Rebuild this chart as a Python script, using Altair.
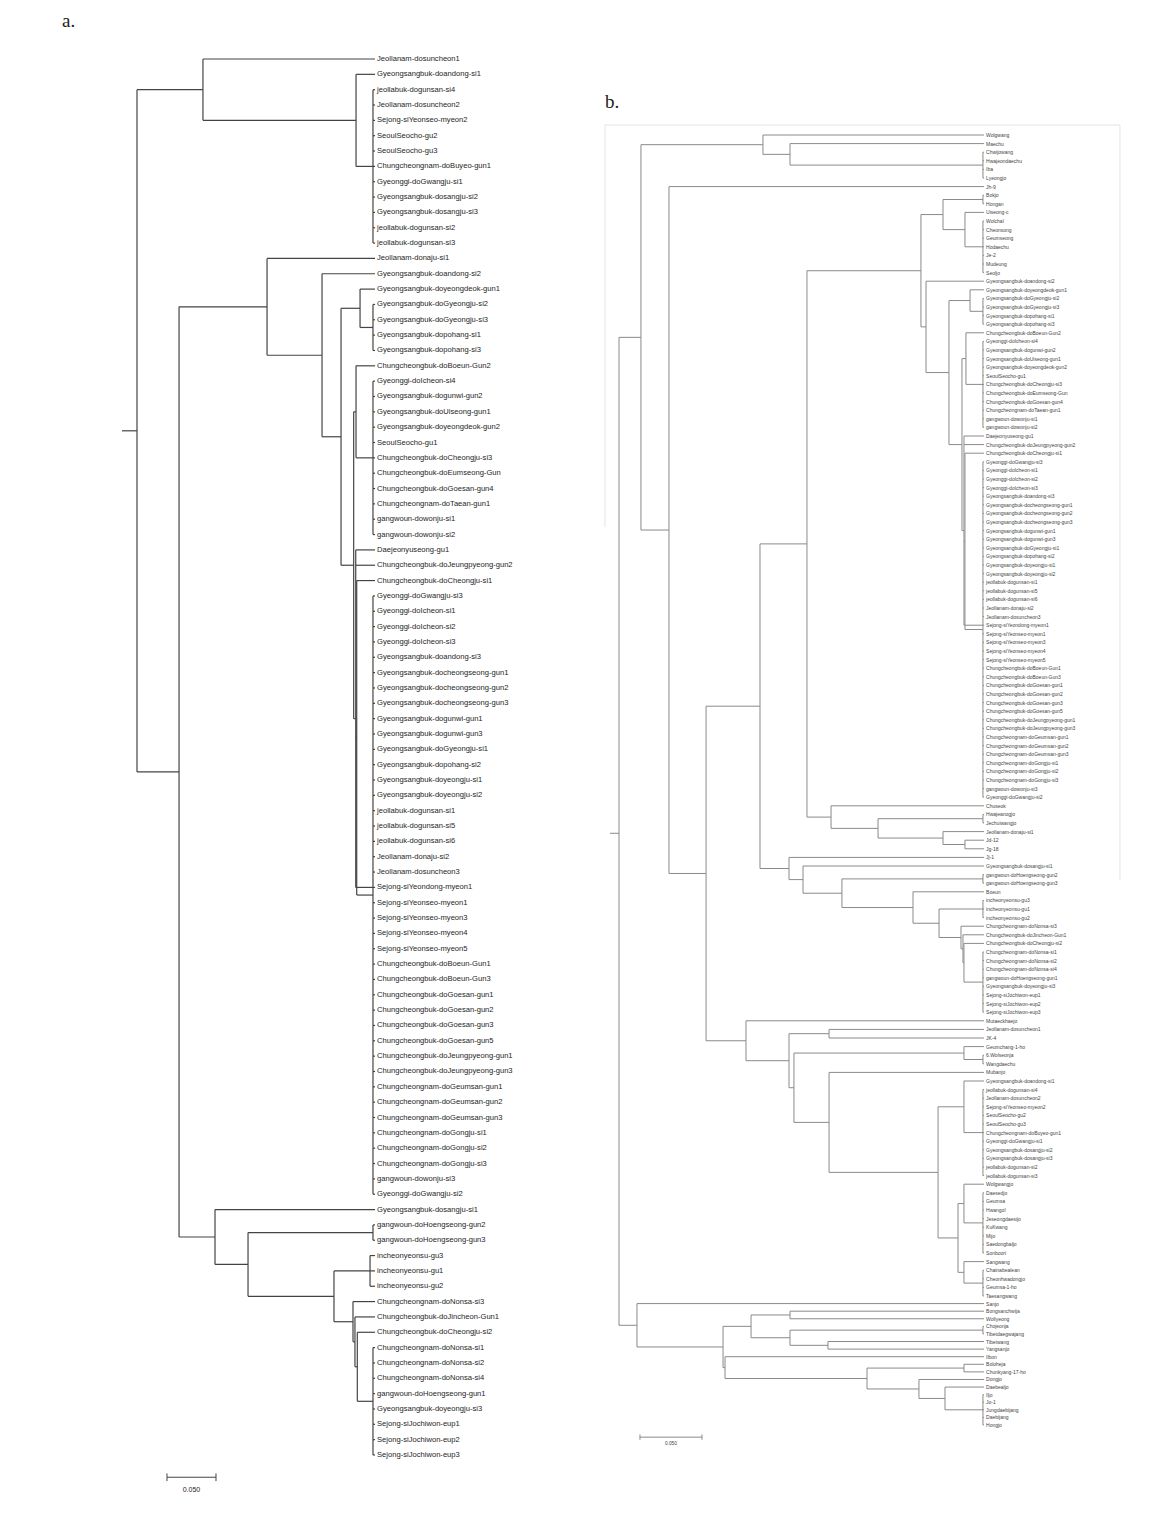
import altair as alt
import pandas as pd

# ---------------- data: tree a (92 accessions) ----------------
LABELS_A = [
    "Jeollanam-dosuncheon1", "Gyeongsangbuk-doandong-si1", "jeollabuk-dogunsan-si4", "Jeollanam-dosuncheon2",
    "Sejong-siYeonseo-myeon2", "SeoulSeocho-gu2", "SeoulSeocho-gu3", "Chungcheongnam-doBuyeo-gun1",
    "Gyeonggi-doGwangju-si1", "Gyeongsangbuk-dosangju-si2", "Gyeongsangbuk-dosangju-si3", "jeollabuk-dogunsan-si2",
    "jeollabuk-dogunsan-si3", "Jeollanam-donaju-si1", "Gyeongsangbuk-doandong-si2", "Gyeongsangbuk-doyeongdeok-gun1",
    "Gyeongsangbuk-doGyeongju-si2", "Gyeongsangbuk-doGyeongju-si3", "Gyeongsangbuk-dopohang-si1", "Gyeongsangbuk-dopohang-si3",
    "Chungcheongbuk-doBoeun-Gun2", "Gyeonggi-doIcheon-si4", "Gyeongsangbuk-dogunwi-gun2", "Gyeongsangbuk-doUiseong-gun1",
    "Gyeongsangbuk-doyeongdeok-gun2", "SeoulSeocho-gu1", "Chungcheongbuk-doCheongju-si3", "Chungcheongbuk-doEumseong-Gun",
    "Chungcheongbuk-doGoesan-gun4", "Chungcheongnam-doTaean-gun1", "gangwoun-dowonju-si1", "gangwoun-dowonju-si2",
    "Daejeonyuseong-gu1", "Chungcheongbuk-doJeungpyeong-gun2", "Chungcheongbuk-doCheongju-si1", "Gyeonggi-doGwangju-si3",
    "Gyeonggi-doIcheon-si1", "Gyeonggi-doIcheon-si2", "Gyeonggi-doIcheon-si3", "Gyeongsangbuk-doandong-si3",
    "Gyeongsangbuk-docheongseong-gun1", "Gyeongsangbuk-docheongseong-gun2", "Gyeongsangbuk-docheongseong-gun3",
    "Gyeongsangbuk-dogunwi-gun1", "Gyeongsangbuk-dogunwi-gun3", "Gyeongsangbuk-doGyeongju-si1", "Gyeongsangbuk-dopohang-si2",
    "Gyeongsangbuk-doyeongju-si1", "Gyeongsangbuk-doyeongju-si2", "jeollabuk-dogunsan-si1", "jeollabuk-dogunsan-si5",
    "jeollabuk-dogunsan-si6", "Jeollanam-donaju-si2", "Jeollanam-dosuncheon3", "Sejong-siYeondong-myeon1",
    "Sejong-siYeonseo-myeon1", "Sejong-siYeonseo-myeon3", "Sejong-siYeonseo-myeon4", "Sejong-siYeonseo-myeon5",
    "Chungcheongbuk-doBoeun-Gun1", "Chungcheongbuk-doBoeun-Gun3", "Chungcheongbuk-doGoesan-gun1", "Chungcheongbuk-doGoesan-gun2",
    "Chungcheongbuk-doGoesan-gun3", "Chungcheongbuk-doGoesan-gun5", "Chungcheongbuk-doJeungpyeong-gun1",
    "Chungcheongbuk-doJeungpyeong-gun3", "Chungcheongnam-doGeumsan-gun1", "Chungcheongnam-doGeumsan-gun2",
    "Chungcheongnam-doGeumsan-gun3", "Chungcheongnam-doGongju-si1", "Chungcheongnam-doGongju-si2", "Chungcheongnam-doGongju-si3",
    "gangwoun-dowonju-si3", "Gyeonggi-doGwangju-si2", "Gyeongsangbuk-dosangju-si1", "gangwoun-doHoengseong-gun2",
    "gangwoun-doHoengseong-gun3", "incheonyeonsu-gu3", "incheonyeonsu-gu1", "incheonyeonsu-gu2",
    "Chungcheongnam-doNonsa-si3", "Chungcheongbuk-doJincheon-Gun1", "Chungcheongbuk-doCheongju-si2",
    "Chungcheongnam-doNonsa-si1", "Chungcheongnam-doNonsa-si2", "Chungcheongnam-doNonsa-si4", "gangwoun-doHoengseong-gun1",
    "Gyeongsangbuk-doyeongju-si3", "Sejong-siJochiwon-eup1", "Sejong-siJochiwon-eup2", "Sejong-siJochiwon-eup3",
]
LEAF_DEPTH_A = 0.2429
# node = (distance from root, [children]); children are leaf numbers (1-based) or nodes
TREE_A = (0.0, [
    (0.0673, [1, (0.2235, [2, (0.2408, list(range(3, 14)))])]),
    (0.0429, [
        (0.1327, [14, (0.1888, [15, (0.2082, [
            (0.2276, [16, (0.2408, [17, 18, 19, 20])]),
            (0.2211, [
                (0.2235, [21, (0.2408, list(range(22, 33)))]),
                (0.2232, [33, 34, (0.2242, [35, (0.2408, list(range(36, 55)) + list(range(56, 76)))]), 55]),
            ]),
        ])])]),
        (0.0796, [76, (0.1133, [
            (0.2408, [77, 78]),
            (0.2010, [
                (0.2378, [79, 80, 81]),
                (0.2204, [82, (0.2224, [83, (0.2248, [84, (0.2408, list(range(85, 93)))])])]),
            ]),
        ])]),
    ]),
])
ROOT_STUB_A = -0.0153
SCALEBAR_A = [0.0306, 0.0806]   # 0.050 substitutions per site
SCALEBAR_A_ROW = 93.45

# ---------------- data: tree b (153 accessions) ----------------
LABELS_B = [
    "Wolgwang", "Maechu", "Chwijowang", "Hwajeondaechu", "Iba", "Lyeongjo", "Jh-9", "Bokjo", "Hongan", "Uiseong-c",
    "Wolchal", "Cheonsong", "Geumseong", "Hodaechu", "Je-2", "Mudeung", "Seoljo",
    "Gyeongsangbuk-doandong-si2", "Gyeongsangbuk-doyeongdeok-gun1", "Gyeongsangbuk-doGyeongju-si2",
    "Gyeongsangbuk-doGyeongju-si3", "Gyeongsangbuk-dopohang-si1", "Gyeongsangbuk-dopohang-si3",
    "Chungcheongbuk-doBoeun-Gun2", "Gyeonggi-doIcheon-si4", "Gyeongsangbuk-dogunwi-gun2", "Gyeongsangbuk-doUiseong-gun1",
    "Gyeongsangbuk-doyeongdeok-gun2", "SeoulSeocho-gu1", "Chungcheongbuk-doCheongju-si3", "Chungcheongbuk-doEumseong-Gun",
    "Chungcheongbuk-doGoesan-gun4", "Chungcheongnam-doTaean-gun1", "gangwoun-dowonju-si1", "gangwoun-dowonju-si2",
    "Daejeonyuseong-gu1", "Chungcheongbuk-doJeungpyeong-gun2", "Chungcheongbuk-doCheongju-si1",
    "Gyeonggi-doGwangju-si3", "Gyeonggi-doIcheon-si1", "Gyeonggi-doIcheon-si2", "Gyeonggi-doIcheon-si3",
    "Gyeongsangbuk-doandong-si3", "Gyeongsangbuk-docheongseong-gun1", "Gyeongsangbuk-docheongseong-gun2",
    "Gyeongsangbuk-docheongseong-gun3", "Gyeongsangbuk-dogunwi-gun1", "Gyeongsangbuk-dogunwi-gun3",
    "Gyeongsangbuk-doGyeongju-si1", "Gyeongsangbuk-dopohang-si2", "Gyeongsangbuk-doyeongju-si1", "Gyeongsangbuk-doyeongju-si2",
    "jeollabuk-dogunsan-si1", "jeollabuk-dogunsan-si5", "jeollabuk-dogunsan-si6", "Jeollanam-donaju-si2",
    "Jeollanam-dosuncheon3", "Sejong-siYeondong-myeon1", "Sejong-siYeonseo-myeon1", "Sejong-siYeonseo-myeon3",
    "Sejong-siYeonseo-myeon4", "Sejong-siYeonseo-myeon5", "Chungcheongbuk-doBoeun-Gun1", "Chungcheongbuk-doBoeun-Gun3",
    "Chungcheongbuk-doGoesan-gun1", "Chungcheongbuk-doGoesan-gun2", "Chungcheongbuk-doGoesan-gun3", "Chungcheongbuk-doGoesan-gun5",
    "Chungcheongbuk-doJeungpyeong-gun1", "Chungcheongbuk-doJeungpyeong-gun3", "Chungcheongnam-doGeumsan-gun1",
    "Chungcheongnam-doGeumsan-gun2", "Chungcheongnam-doGeumsan-gun3", "Chungcheongnam-doGongju-si1",
    "Chungcheongnam-doGongju-si2", "Chungcheongnam-doGongju-si3", "gangwoun-dowonju-si3", "Gyeonggi-doGwangju-si2",
    "Chuseok", "Hwajeanogjo", "Jechuiwangjo", "Jeollanam-donaju-si1", "Jd-12", "Jg-18", "Jj-1",
    "Gyeongsangbuk-dosangju-si1", "gangwoun-doHoengseong-gun2", "gangwoun-doHoengseong-gun3", "Boeun",
    "incheonyeonsu-gu3", "incheonyeonsu-gu1", "incheonyeonsu-gu2", "Chungcheongnam-doNonsa-si3",
    "Chungcheongbuk-doJincheon-Gun1", "Chungcheongbuk-doCheongju-si2", "Chungcheongnam-doNonsa-si1",
    "Chungcheongnam-doNonsa-si2", "Chungcheongnam-doNonsa-si4", "gangwoun-doHoengseong-gun1",
    "Gyeongsangbuk-doyeongju-si3", "Sejong-siJochiwon-eup1", "Sejong-siJochiwon-eup2", "Sejong-siJochiwon-eup3",
    "Mutaeckhaejo", "Jeollanam-dosuncheon1", "JK-4", "Geumchang-1-ho", "6.Wolseonja", "Wangdaechu", "Mubanjo",
    "Gyeongsangbuk-doandong-si1", "jeollabuk-dogunsan-si4", "Jeollanam-dosuncheon2", "Sejong-siYeonseo-myeon2",
    "SeoulSeocho-gu2", "SeoulSeocho-gu3", "Chungcheongnam-doBuyeo-gun1", "Gyeonggi-doGwangju-si1",
    "Gyeongsangbuk-dosangju-si2", "Gyeongsangbuk-dosangju-si3", "jeollabuk-dogunsan-si2", "jeollabuk-dogunsan-si3",
    "Wolgwangjo", "Daesedjo", "Geumsa", "Hwangol", "Jeseongdaesijo", "KuKwang", "Mijo", "Saedongbaljo", "Sonboori",
    "Sangwang", "Chainabealean", "Cheonhwadongjo", "Geumsa-1-ho", "Taesangwang",
    "Sanjo", "Bongsanchwija", "Wollyeong", "Chojeonja", "Tibetdaegwajang", "Tibetwang", "Yangsanjo", "Ilbon",
    "Boloheja", "Chunkyang-17-ho", "Dongjo", "Daebealjo", "Iljo", "Jo-1", "Jungdaebijang", "Daebijang", "Hongjo",
]
LEAF_DEPTH_B = 0.2944
TREE_B = (0.0, [
    (0.0177, [
        (0.1161, [1, (0.1379, [2, (0.2935, [3, 4, 5, 6])])]),
        (0.0403, [7, (0.0702, [
            (0.1137, [
                (0.1516, [
                    (0.2435, [
                        (0.2613, [(0.2935, [8, 9]), (0.2790, [10, (0.2935, list(range(11, 18)))])]),
                        (0.2476, [18, (0.2661, [
                            (0.2831, [19, (0.2935, [20, 21, 22, 23])]),
                            (0.2766, [
                                (0.2798, [24, (0.2935, list(range(25, 36)))]),
                                (0.2782, [36, 37, (0.2790, [38, (0.2935, list(range(39, 58)) + list(range(59, 79)))]), 58]),
                            ]),
                        ])]),
                    ]),
                    (0.1710, [79, (0.2089, [(0.2935, [80, 81]), (0.2613, [82, (0.2790, [83, 84])])])]),
                ]),
                (0.1371, [85, (0.1484, [86, (0.1798, [
                    (0.2935, [87, 88]),
                    (0.2371, [89, (0.2581, [
                        (0.2935, [90, 91, 92]),
                        (0.2758, [93, (0.2774, [94, (0.2782, [95, (0.2935, list(range(96, 104)))])])]),
                    ])]),
                ])])]),
            ]),
            (0.1024, [104, (0.1371, [
                (0.1694, [105, 106]),
                (0.1411, [
                    (0.2782, [107, (0.2935, [108, 109])]),
                    (0.1694, [110, (0.2573, [
                        (0.2782, [111, (0.2935, list(range(112, 123)))]),
                        (0.2734, [
                            (0.2782, [123, (0.2935, list(range(124, 132)))]),
                            (0.2782, [132, (0.2935, [133, 134, 135, 136])]),
                        ]),
                    ])]),
                ]),
            ])]),
        ])]),
    ]),
    (0.0145, [137, (0.0839, [
        (0.1065, [(0.1379, [138, 139]), (0.1379, [(0.2935, [140, 141]), (0.1685, [142, 143])])]),
        (0.0855, [144, (0.2000, [
            (0.2782, [145, 146]),
            (0.2419, [147, (0.2629, [148, (0.2935, [149, 150, 151, 152, 153])])]),
        ])]),
    ])]),
])
ROOT_STUB_B = -0.0073
SCALEBAR_B = [0.0169, 0.0669]
SCALEBAR_B_ROW = 154.6
FRAME_B = {"left": -0.0113, "right": 0.404, "top": -0.16, "bottom": 87.6, "left_bottom": 46.6}


# ---------------- layout helpers ----------------
def tree_segments(tree, leaf_depth, stub):
    segs = []

    def walk(node):
        if isinstance(node, int):
            return leaf_depth, float(node)
        d, kids = node
        ys = []
        for k in kids:
            kd, ky = walk(k)
            segs.append({"x": d, "x2": kd, "y": ky, "y2": ky})
            ys.append(ky)
        segs.append({"x": d, "x2": d, "y": min(ys), "y2": max(ys)})
        return d, (min(ys) + max(ys)) / 2

    rd, ry = walk(tree)
    segs.append({"x": stub, "x2": rd, "y": ry, "y2": ry})
    return pd.DataFrame(segs)


def scalebar(xs, row, tick):
    return pd.DataFrame([
        {"x": xs[0], "x2": xs[1], "y": row, "y2": row},
        {"x": xs[0], "x2": xs[0], "y": row - tick, "y2": row + tick},
        {"x": xs[1], "x2": xs[1], "y": row - tick, "y2": row + tick},
    ])


def tree_chart(segs, labels, leaf_depth, xs, ys, sb, sb_text_row, line_color, line_w,
               font, font_size, text_color, sb_font_size, extra=None):
    def enc(ch):
        return ch.encode(
            x=alt.X("x:Q", scale=xs, axis=None), x2="x2:Q",
            y=alt.Y("y:Q", scale=ys, axis=None), y2="y2:Q",
        )

    lines = enc(alt.Chart(segs).mark_rule(color=line_color, strokeWidth=line_w))
    bar = enc(alt.Chart(sb).mark_rule(color=line_color, strokeWidth=1))
    lab_df = pd.DataFrame({"x": leaf_depth, "y": range(1, len(labels) + 1), "label": labels})
    texts = alt.Chart(lab_df).mark_text(
        align="left", baseline="middle", dx=2, font=font, fontSize=font_size, color=text_color
    ).encode(
        x=alt.X("x:Q", scale=xs, axis=None),
        y=alt.Y("y:Q", scale=ys, axis=None),
        text="label:N",
    )
    sbl = alt.Chart(pd.DataFrame({"x": [(sb["x"][0] + sb["x2"][0]) / 2], "y": [sb_text_row], "t": ["0.050"]})).mark_text(
        align="center", baseline="middle", font=font, fontSize=sb_font_size, color=text_color
    ).encode(
        x=alt.X("x:Q", scale=xs, axis=None),
        y=alt.Y("y:Q", scale=ys, axis=None),
        text="t:N",
    )
    layers = [lines, texts, bar, sbl]
    if extra is not None:
        layers.insert(0, enc(extra))
    return alt.layer(*layers)


FONT = "'Liberation Sans', Arial, sans-serif"

XA = alt.Scale(domain=[0, 0.25], range=[129, 374], nice=False, zero=False)
YA = alt.Scale(domain=[1, 92], range=[51, 1447], nice=False, zero=False)
XB = alt.Scale(domain=[0, 0.3], range=[611, 983], nice=False, zero=False)
YB = alt.Scale(domain=[1, 136, 153], range=[127, 1288, 1417], nice=False, zero=False)

segs_a = tree_segments(TREE_A, LEAF_DEPTH_A, ROOT_STUB_A)
segs_b = tree_segments(TREE_B, LEAF_DEPTH_B, ROOT_STUB_B)

frame_df = pd.DataFrame([
    {"x": FRAME_B["left"], "x2": FRAME_B["right"], "y": FRAME_B["top"], "y2": FRAME_B["top"]},
    {"x": FRAME_B["right"], "x2": FRAME_B["right"], "y": FRAME_B["top"], "y2": FRAME_B["bottom"]},
    {"x": FRAME_B["left"], "x2": FRAME_B["left"], "y": FRAME_B["top"], "y2": FRAME_B["left_bottom"]},
])
frame = alt.Chart(frame_df).mark_rule(color="#e4e4e4", strokeWidth=1)

chart_a = tree_chart(segs_a, LABELS_A, LEAF_DEPTH_A, XA, YA, scalebar(SCALEBAR_A, SCALEBAR_A_ROW, 0.25),
                     94.3, "#444444", 1.2, FONT, 7.6, "#1e1e1e", 7.0)
chart_b = tree_chart(segs_b, LABELS_B, LEAF_DEPTH_B, XB, YB, scalebar(SCALEBAR_B, SCALEBAR_B_ROW, 0.35),
                     155.5, "#8a8a8a", 1.0, FONT, 5.0, "#444444", 4.8, extra=frame)

panel_titles = alt.Chart(pd.DataFrame({"t": ["a.", "b."], "px": [54, 597], "py": [19, 100]})).mark_text(
    align="left", baseline="alphabetic", font="'Liberation Serif', 'DejaVu Serif', serif", fontSize=19, color="#222222"
).encode(
    x=alt.X("px:Q", scale=alt.Scale(domain=[0, 1158], range=[0, 1158], nice=False, zero=False), axis=None),
    y=alt.Y("py:Q", scale=alt.Scale(domain=[0, 1505], range=[0, 1505], nice=False, zero=False), axis=None),
    text="t:N",
)

chart = alt.layer(chart_a, chart_b, panel_titles).resolve_scale(
    x="independent", y="independent"
).properties(
    width=1158, height=1505, autosize=alt.AutoSizeParams(type="none"), padding=0
).configure_view(stroke=None)

chart.save("out.html", embed_options={"renderer": "svg", "actions": False})
